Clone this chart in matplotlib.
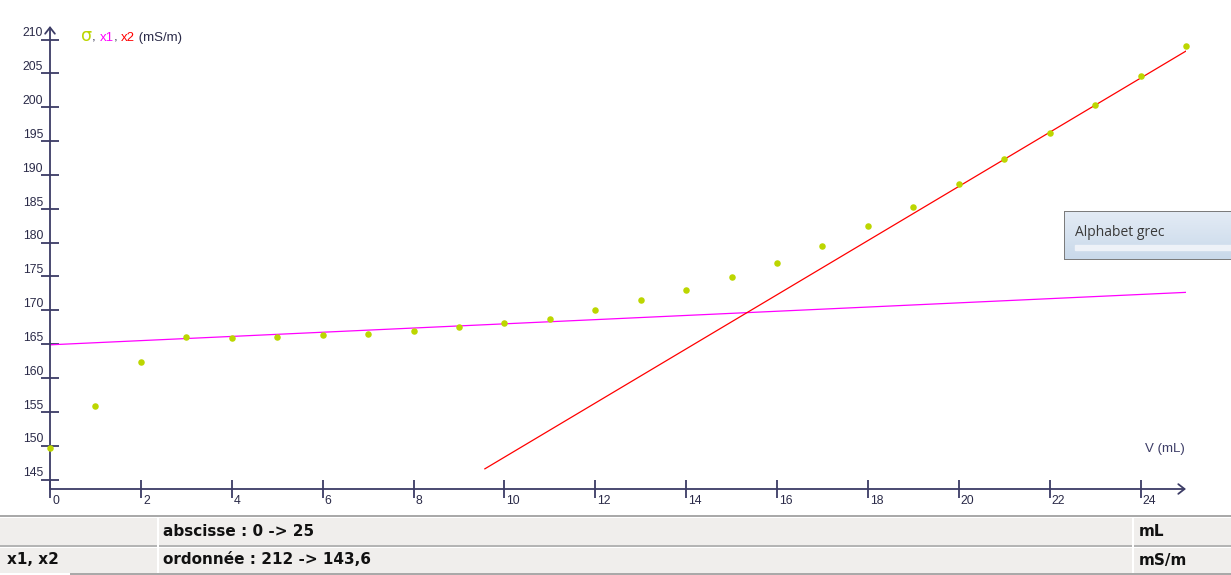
import numpy as np
import matplotlib.pyplot as plt
from matplotlib.patches import Rectangle
from matplotlib.colors import LinearSegmentedColormap

# conductivity measurements (sigma, mS/m) vs added volume V (mL)
V = [0, 1, 2, 3, 4, 5, 6, 7, 8, 9, 10, 11, 12,
     13, 14, 15, 16, 17, 18, 19, 20, 21, 22, 23, 24, 25]
sigma = [149.7, 155.8, 162.3, 166.0, 165.9, 166.1, 166.3, 166.5, 166.9, 167.5,
         168.1, 168.7, 170.0, 171.5, 173.0, 174.9, 177.0, 179.5, 182.4, 185.3,
         188.7, 192.3, 196.2, 200.4, 204.6, 209.0]

# linear models x1 and x2 : slope, intercept, V range
x1_model = [0.31, 164.9, 0.0, 25.0]
x2_model = [4.0, 108.3, 9.57, 25.0]

xticks = [0, 2, 4, 6, 8, 10, 12, 14, 16, 18, 20, 22, 24]
yticks = [145, 150, 155, 160, 165, 170, 175, 180, 185, 190, 195, 200, 205, 210]
xlim = [0, 25]
ylim = [143.6, 212]

W, H = 1231, 575
def fx(px):
    return px / W
def fy(py):
    return 1 - py / H

def rect_px(x0, y0, x1, y1, color):
    fig.add_artist(Rectangle((fx(x0), fy(y1)), fx(x1) - fx(x0), fy(y0) - fy(y1),
                             transform=fig.transFigure, facecolor=color,
                             edgecolor='none', zorder=0))

axis_col = '#3c3c66'
lab_col = '#2a2a48'
pt_col = '#bcd600'

fig = plt.figure(figsize=(12.31, 5.75), dpi=100)
ax = fig.add_axes([fx(50), fy(489), fx(1186) - fx(50), fy(26) - fy(489)])
ax.set_xlim(xlim)
ax.set_ylim(ylim)
for s in ax.spines.values():
    s.set_visible(False)
ax.set_xticks([])
ax.set_yticks([])
ax.patch.set_alpha(0)

# axes drawn as arrows
arr = dict(arrowstyle='->,head_length=0.45,head_width=0.35', color=axis_col, lw=1.3,
           shrinkA=0, shrinkB=0)
ax.annotate('', xy=(1.0, 0), xytext=(0, 0), xycoords='axes fraction', arrowprops=arr)
ax.annotate('', xy=(0, 1.0), xytext=(0, 0), xycoords='axes fraction', arrowprops=arr)

# ticks crossing the axes + labels
for v in xticks:
    ax.plot([v], [0], marker='|', markersize=13, markeredgewidth=1.3, color=axis_col,
            transform=ax.get_xaxis_transform(), clip_on=False)
    ax.annotate(str(v), xy=(v, 0), xycoords=('data', 'axes fraction'),
                xytext=(1.5, -8.5), textcoords='offset points', ha='left', va='center',
                fontsize=8.8, color=lab_col, family='Liberation Sans')
for v in yticks:
    ax.plot([0], [v], marker='_', markersize=13, markeredgewidth=1.3, color=axis_col,
            transform=ax.get_yaxis_transform(), clip_on=False)
    ax.annotate(str(v), xy=(0, v), xycoords=('axes fraction', 'data'),
                xytext=(-5, 4.5), textcoords='offset points', ha='right', va='center',
                fontsize=8.8, color=lab_col, family='Liberation Sans')

# model lines
for m, c in [(x1_model, '#ff00ff'), (x2_model, '#ff0000')]:
    xx = np.array([m[2], m[3]])
    ax.plot(xx, m[0] * xx + m[1], color=c, lw=0.9, zorder=2)

ax.scatter(V, sigma, s=22, color=pt_col, zorder=3, clip_on=False, linewidths=0)

# top-left legend label
t = fig.text(fx(81), fy(45), '\u03c3', color=pt_col, fontsize=12.5, va='bottom',
             family='DejaVu Sans')
parts = [(', ', lab_col), ('x1', '#ff00ff'), (', ', lab_col), ('x2', '#ff0000'),
         (' (mS/m)', lab_col)]
prev = t
for i, (txt, c) in enumerate(parts):
    prev = ax.annotate(txt, xy=(1, 0), xycoords=prev, xytext=(0, 1 if i == 0 else 0),
                       textcoords='offset points', va='bottom', ha='left',
                       fontsize=9.5, color=c, family='Liberation Sans')

ax.text(fx(1145), fy(449), 'V (mL)', transform=fig.transFigure, fontsize=9.5,
        color=axis_col, va='center', ha='left', family='Liberation Sans')

# bottom info table
rect_px(0, 515, 1231, 517, '#a9a9a9')
rect_px(0, 517, 1231, 518, '#ffffff')
rect_px(0, 518, 1231, 545, '#f0eeec')
rect_px(0, 545, 1231, 547, '#b4b4b4')
rect_px(0, 547, 1231, 548, '#ffffff')
rect_px(0, 548, 1231, 573, '#f0eeec')
rect_px(70, 573, 1231, 575, '#a9a9a9')
rect_px(157, 518, 159, 573, '#ffffff')
rect_px(1132, 518, 1134, 573, '#ffffff')
rows = [('', 'abscisse : 0 -> 25', 'mL', 531),
        ('x1, x2', 'ordonn\u00e9e : 212 -> 143,6', 'mS/m', 560)]
for c0, c1, c2, py in rows:
    for px, txt in [(7, c0), (163, c1), (1139, c2)]:
        fig.text(fx(px), fy(py), txt, fontsize=11, fontweight='bold', color='#111111',
                 va='center', ha='left', family='DejaVu Sans')

# "Alphabet grec" popup
rect_px(1064, 211, 1231, 260, '#7c7c7c')
pop = fig.add_axes([fx(1065), fy(259), fx(1231) - fx(1065), fy(212) - fy(259)])
grad = np.linspace(0, 1, 50)[:, None]
cm = LinearSegmentedColormap.from_list('pop', ['#e3ebf5', '#c9d9ea'])
pop.imshow(grad, aspect='auto', cmap=cm, extent=[0, 1, 0, 1], origin='upper')
pop.add_patch(Rectangle((0.06, 0.2), 0.94, 0.1, color='#eef2f8', transform=pop.transAxes))
pop.axis('off')
fig.text(fx(1075), fy(233), 'Alphabet grec', fontsize=10, color='#3a3a3a',
         va='center', ha='left', family='Open Sans')

fig.savefig('out.png', dpi=100)
